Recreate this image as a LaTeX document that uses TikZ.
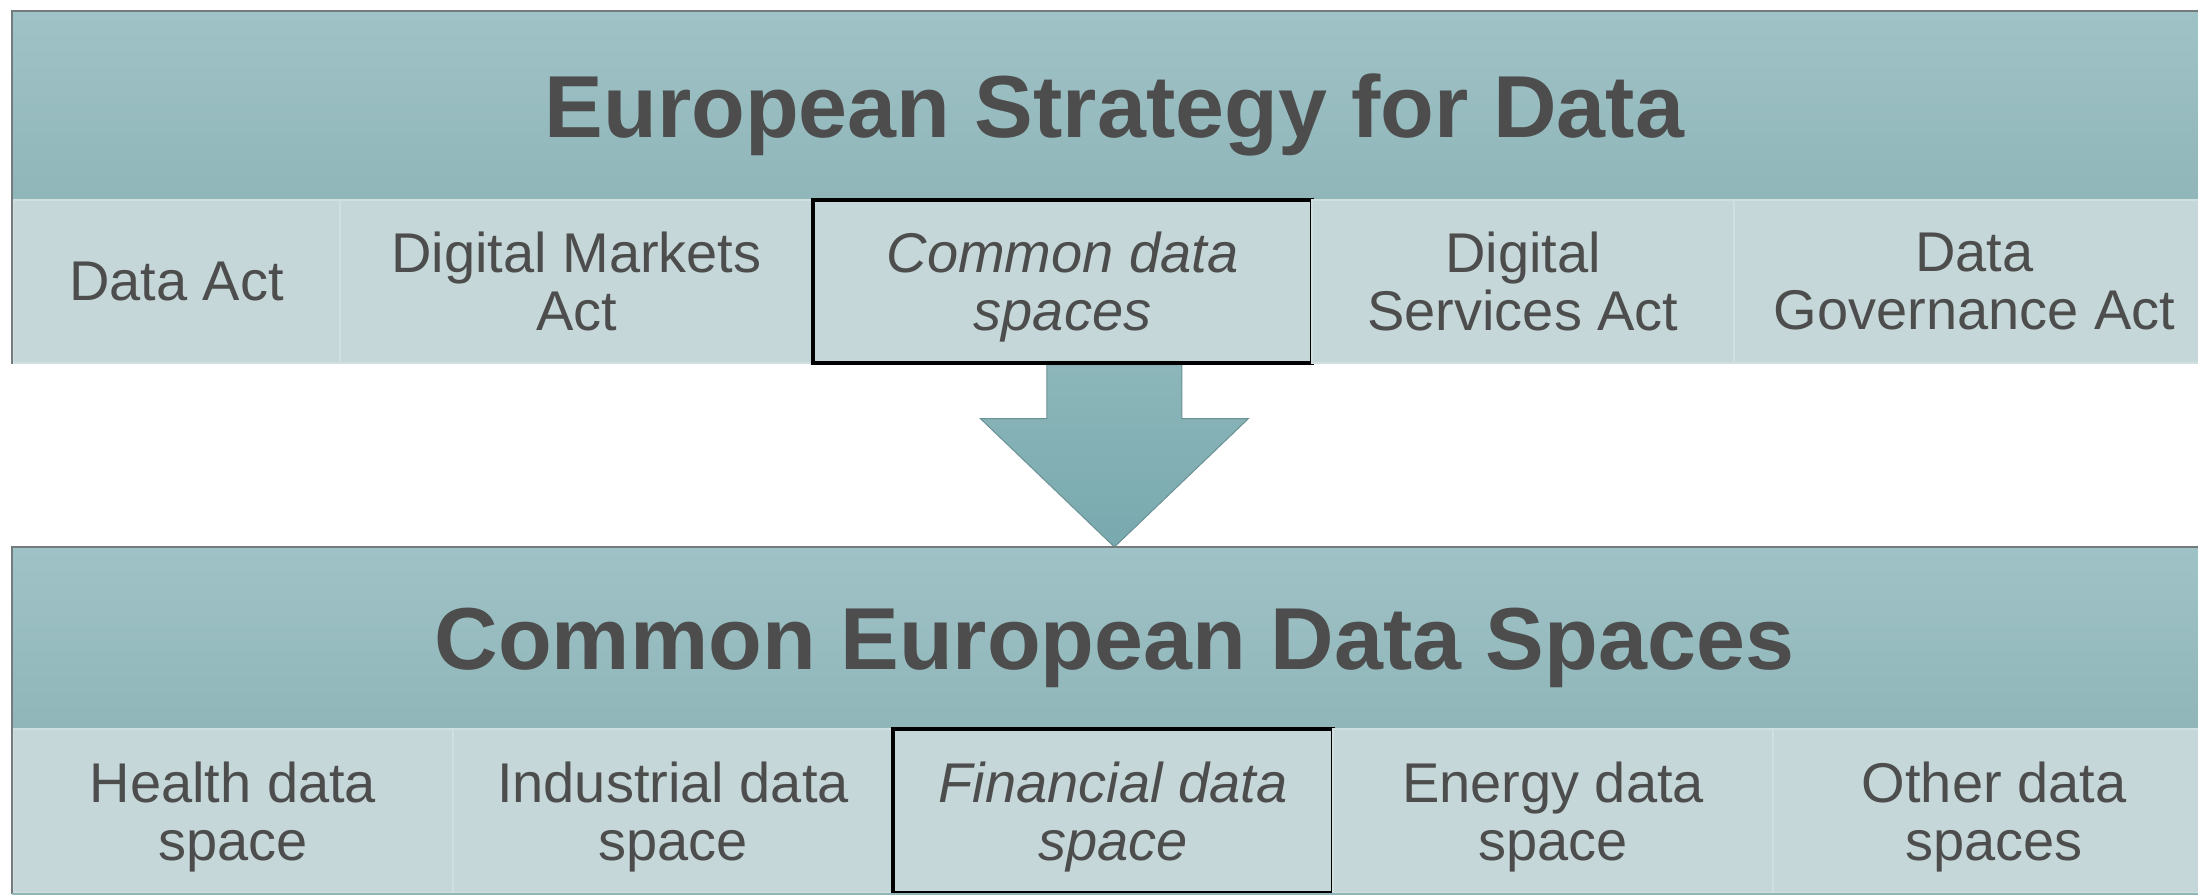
\documentclass[tikz,border=0pt]{standalone}
\usepackage{fontspec}
\setmainfont{Liberation Sans}
\usetikzlibrary{calc,backgrounds}
\definecolor{bandtop}{HTML}{9FC2C6}
\definecolor{bandbot}{HTML}{90B6BA}
\definecolor{cellfill}{HTML}{C5D7D8}
\definecolor{cellline}{HTML}{D0DFE0}
\definecolor{textgray}{HTML}{4D4D4D}
\definecolor{edgegray}{HTML}{737B7C}
\definecolor{arrowtop}{HTML}{8CB6BA}
\definecolor{arrowbot}{HTML}{78A9AE}
\definecolor{arrowline}{HTML}{6A9196}
\tikzset{
	band/.style={anchor=north west, top color=bandtop, bottom color=bandbot,
		text=textgray, font=\fontsize{44}{48}\selectfont\bfseries,
		text height=31.5pt, text depth=0pt,
		minimum width=1101pt, inner sep=0pt},
	cellplain/.style={fill=cellfill, draw=cellline, line width=0.8pt,
		text=textgray, align=center, font=\fontsize{28}{29}\selectfont,
		text depth=0pt, minimum height=81.5pt, inner sep=0pt},
	hilite/.style={cellplain, draw=black, line width=1.6pt,
		font=\fontsize{28}{29}\selectfont\itshape},
	edgeline/.style={draw=edgegray, line width=0.8pt},
}
\begin{document}
\begin{tikzpicture}[x=0.5pt,y=0.5pt]
	\useasboundingbox (0,0) rectangle (2198,894);
	\clip (0,0) rectangle (2198,894);
	% Strategy band
	\node[band, minimum height=94.5pt] (esd) at (13,883) {European Strategy for Data};
	\foreach \l/\r/\nm/\sty/\txt in {
		13/340/da/cellplain/{Data Act},
		340/813/dma/cellplain/{Digital Markets\\Act},
		813/1312/cds/hilite/{Common data\\spaces},
		1312/1734/dsa/cellplain/{Digital\\Services Act},
		1734/2215/dga/cellplain/{Data\\Governance Act}}{
		\node[\sty, minimum width={(\r-\l)*0.5pt}] (\nm) at ({(\l+\r)/2},612.5) {\txt};
	}
	\draw[edgeline] (da.south west) |- (esd.north east);
	% Data spaces band
	\node[band, minimum height=91pt] (ceds) at (13,347) {Common European Data Spaces};
	\foreach \l/\r/\nm/\sty/\txt in {
		13/453/hds/cellplain/{Health data\\space},
		453/893/ids/cellplain/{Industrial data\\space},
		893/1333/fds/hilite/{Financial data\\space},
		1333/1773/eds/cellplain/{Energy data\\space},
		1773/2215/ods/cellplain/{Other data\\spaces}}{
		\node[\sty, minimum width={(\r-\l)*0.5pt}, minimum height=82pt] (\nm) at ({(\l+\r)/2},83) {\txt};
	}
	\draw[edgeline] (hds.south west) |- (ceds.north east);
	\draw[bandbot, line width=1pt] (hds.south west) -- (ods.south east);
	% Arrow between the bands
	\begin{scope}[on background layer]
		\coordinate (stem) at (ceds.north |- cds.south);
		\draw[arrowline, line width=0.5pt, top color=arrowtop, bottom color=arrowbot]
			($(stem)+(-67.5,0)$) -- ++(0,-54) -- ++(-66.5,0) -- (ceds.north)
			-- ($(stem)+(134,-54)$) -- ++(-66.5,0) -- ($(stem)+(67.5,0)$) -- cycle;
	\end{scope}
\end{tikzpicture}
\end{document}
